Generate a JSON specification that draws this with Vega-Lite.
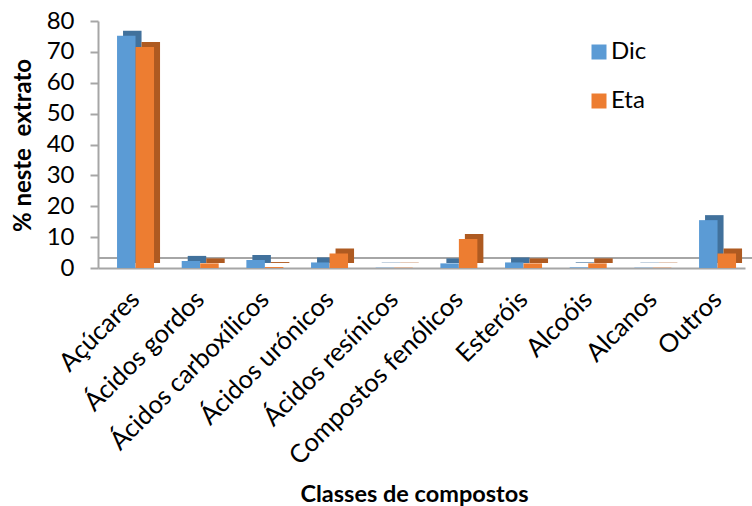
{
  "$schema": "https://vega.github.io/schema/vega-lite/v6.json",
  "width": 647,
  "height": 247,
  "autosize": {"type": "none"},
  "padding": {"left": 98, "top": 21, "right": 7, "bottom": 238},
  "background": "white",
  "config": {
    "font": "Lato",
    "view": {"stroke": null},
    "axisY": {
      "titleFontSize": 24,
      "titleFontWeight": "bold",
      "titleColor": "#000000",
      "titleX": -75,
      "titleY": 124,
      "titleBaseline": "middle",
      "titleAlign": "center",
      "labelOverlap": false,
      "labelFontSize": 24,
      "labelColor": "#000000",
      "labelPadding": 16,
      "tickSize": 8,
      "tickColor": "#a6a6a6",
      "tickWidth": 2,
      "domainColor": "#a6a6a6",
      "domainWidth": 2,
      "grid": false
    }
  },
  "data": {
    "values": [
      {"categoria": "Açúcares", "serie": "Dic", "valor": 75.2},
      {"categoria": "Açúcares", "serie": "Eta", "valor": 71.6},
      {"categoria": "Ácidos gordos", "serie": "Dic", "valor": 2.3},
      {"categoria": "Ácidos gordos", "serie": "Eta", "valor": 1.5},
      {"categoria": "Ácidos carboxílicos", "serie": "Dic", "valor": 2.6},
      {"categoria": "Ácidos carboxílicos", "serie": "Eta", "valor": 0.3},
      {"categoria": "Ácidos urónicos", "serie": "Dic", "valor": 1.8},
      {"categoria": "Ácidos urónicos", "serie": "Eta", "valor": 4.7},
      {"categoria": "Ácidos resínicos", "serie": "Dic", "valor": 0.1},
      {"categoria": "Ácidos resínicos", "serie": "Eta", "valor": 0.1},
      {"categoria": "Compostos fenólicos", "serie": "Dic", "valor": 1.5},
      {"categoria": "Compostos fenólicos", "serie": "Eta", "valor": 9.4},
      {"categoria": "Esteróis", "serie": "Dic", "valor": 1.8},
      {"categoria": "Esteróis", "serie": "Eta", "valor": 1.5},
      {"categoria": "Alcoóis", "serie": "Dic", "valor": 0.2},
      {"categoria": "Alcoóis", "serie": "Eta", "valor": 1.5},
      {"categoria": "Alcanos", "serie": "Dic", "valor": 0.1},
      {"categoria": "Alcanos", "serie": "Eta", "valor": 0.1},
      {"categoria": "Outros", "serie": "Dic", "valor": 15.5},
      {"categoria": "Outros", "serie": "Eta", "valor": 4.7}
    ]
  },
  "resolve": {"scale": {"xOffset": "independent"}},
  "layer": [
    {
      "description": "back edge of the chart floor",
      "mark": {"type": "rule", "color": "#a6a6a6", "strokeWidth": 2, "xOffset": 18, "yOffset": -10},
      "encoding": {
        "y": {
          "datum": 0,
          "type": "quantitative",
          "axis": {"title": "% neste\u00a0 extrato", "values": [0, 10, 20, 30, 40, 50, 60, 70, 80]}
        }
      }
    },
    {
      "description": "darker side and top faces giving the columns depth",
      "mark": {"type": "bar", "yOffset": -5, "y2Offset": -2},
      "encoding": {
        "x": {"field": "categoria", "type": "nominal", "sort": null},
        "xOffset": {
          "field": "serie",
          "type": "nominal",
          "sort": ["Dic", "Eta"],
          "scale": {"range": [6, 43], "paddingInner": 0, "paddingOuter": 0}
        },
        "y": {
          "field": "valor",
          "type": "quantitative",
          "axis": {"title": "% neste\u00a0 extrato", "values": [0, 10, 20, 30, 40, 50, 60, 70, 80]}
        },
        "color": {
          "condition": {"test": "datum.serie === 'Dic'", "value": "#41719c"},
          "value": "#ae5a21"
        }
      }
    },
    {
      "mark": {"type": "bar"},
      "encoding": {
        "x": {
          "field": "categoria",
          "type": "nominal",
          "sort": null,
          "scale": {"paddingInner": 0.428, "paddingOuter": 0.2165, "align": 0.68},
          "axis": {
            "title": "Classes de compostos",
            "titleFontSize": 23.5,
            "titleFontWeight": "bold",
            "titleColor": "#000000",
            "titleX": 316,
            "titleY": 233,
            "titleBaseline": "alphabetic",
            "labelAngle": -45,
            "labelFontSize": 25.5,
            "labelColor": "#000000",
            "labelPadding": 27,
            "labelLimit": 0,
            "ticks": false,
            "domainColor": "#a6a6a6",
            "domainWidth": 2,
            "labelOverlap": false
          }
        },
        "xOffset": {
          "field": "serie",
          "type": "nominal",
          "sort": ["Dic", "Eta"],
          "scale": {"paddingInner": 0, "paddingOuter": 0}
        },
        "y": {
          "field": "valor",
          "type": "quantitative",
          "scale": {"domain": [0, 80]},
          "axis": {"title": "% neste\u00a0 extrato", "values": [0, 10, 20, 30, 40, 50, 60, 70, 80]}
        },
        "color": {
          "field": "serie",
          "type": "nominal",
          "scale": {"domain": ["Dic", "Eta"], "range": ["#5b9bd5", "#ed7d31"]},
          "legend": {
            "title": null,
            "orient": "none",
            "legendX": 489,
            "legendY": 19,
            "padding": 0,
            "symbolType": "square",
            "symbolSize": 225,
            "symbolStrokeWidth": 0,
            "labelFontSize": 24,
            "labelColor": "#000000",
            "labelOffset": 0,
            "rowPadding": 25
          }
        }
      }
    }
  ]
}
